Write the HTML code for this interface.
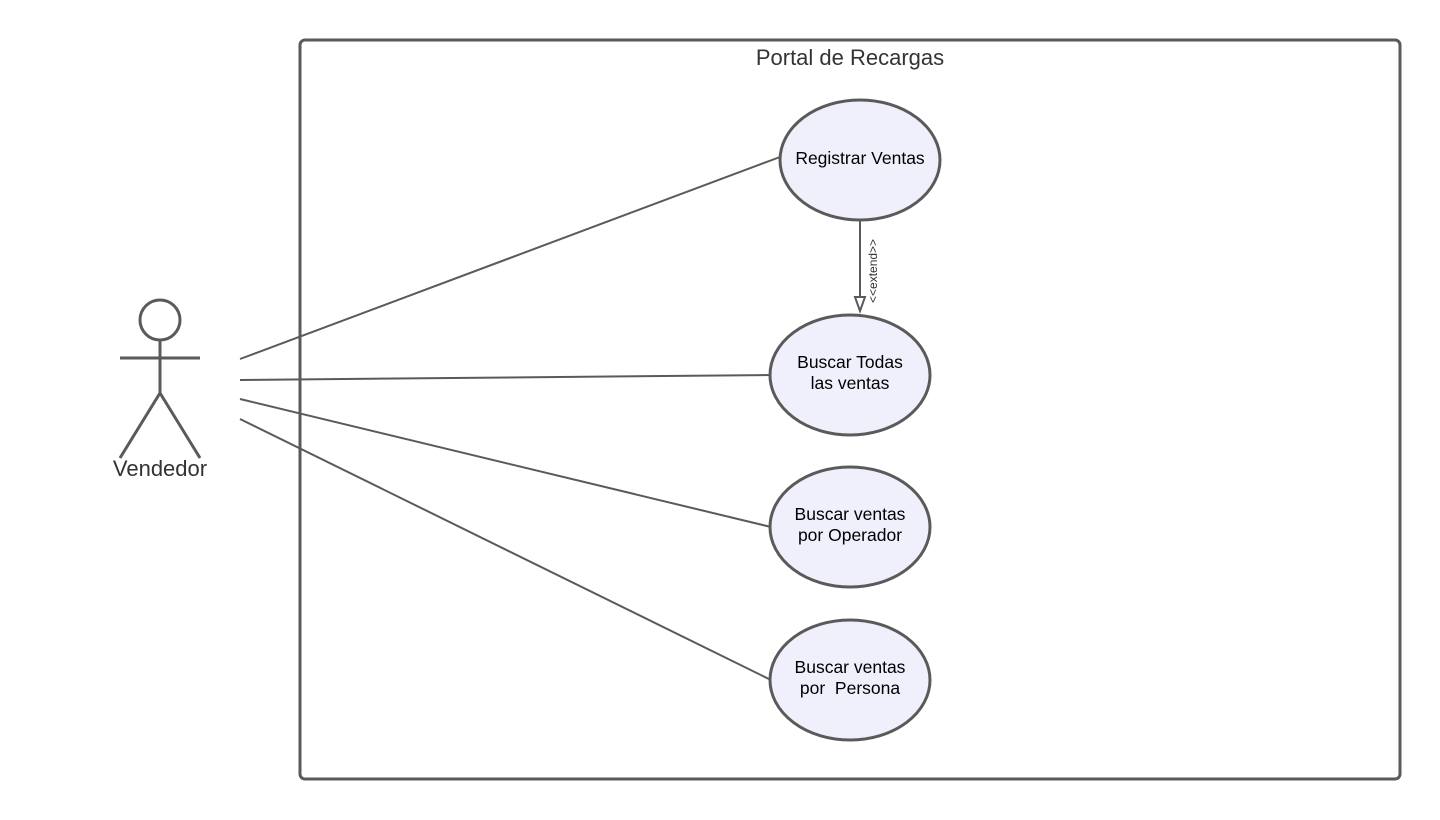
<!DOCTYPE html>
<html><head><meta charset="utf-8"><style>
html,body{margin:0;padding:0;background:#fff;}
svg{display:block;}
text{font-family:"Liberation Sans",sans-serif;}
</style></head><body>
<svg width="1440" height="820" viewBox="0 0 1440 820" xmlns="http://www.w3.org/2000/svg">
<rect x="300" y="40" width="1100" height="739" rx="5" fill="#fff" stroke="#5a5a5a" stroke-width="3"/>
<text x="850" y="65" font-size="22" fill="#333" text-anchor="middle">Portal de Recargas</text>
<g stroke="#5a5a5a" stroke-width="2" fill="none">
<line x1="240" y1="359" x2="780" y2="157"/>
<line x1="240" y1="380" x2="770" y2="375"/>
<line x1="240" y1="399" x2="771" y2="527"/>
<line x1="240" y1="419" x2="771" y2="680"/>
<line x1="860" y1="220" x2="860" y2="297"/>
</g>
<polygon points="855,297 865,297 860,311" fill="#fff" stroke="#5a5a5a" stroke-width="2"/>
<text transform="translate(877,303) rotate(-90)" font-size="12" fill="#333">&lt;&lt;extend&gt;&gt;</text>
<g fill="#f0f0fd" stroke="#5a5a5a" stroke-width="3">
<ellipse cx="860" cy="160" rx="80" ry="60"/>
<ellipse cx="850" cy="375" rx="80" ry="60"/>
<ellipse cx="850" cy="527" rx="80" ry="60"/>
<ellipse cx="850" cy="680" rx="80" ry="60"/>
</g>
<g font-size="17.5" fill="#000" text-anchor="middle">
<text x="860" y="164">Registrar Ventas</text>
<text x="850" y="368">Buscar Todas</text>
<text x="850" y="389">las ventas</text>
<text x="850" y="520">Buscar ventas</text>
<text x="850" y="541">por Operador</text>
<text x="850" y="673">Buscar ventas</text>
<text x="850" y="694" xml:space="preserve">por  Persona</text>
</g>
<g stroke="#5a5a5a" stroke-width="3" fill="none">
<circle cx="160" cy="320" r="20"/>
<line x1="120" y1="358" x2="200" y2="358"/>
<line x1="160" y1="340" x2="160" y2="393"/>
<line x1="160" y1="393" x2="120" y2="458"/>
<line x1="160" y1="393" x2="200" y2="458"/>
</g>
<text x="160" y="476" font-size="22" fill="#333" text-anchor="middle">Vendedor</text>
</svg>
</body></html>
